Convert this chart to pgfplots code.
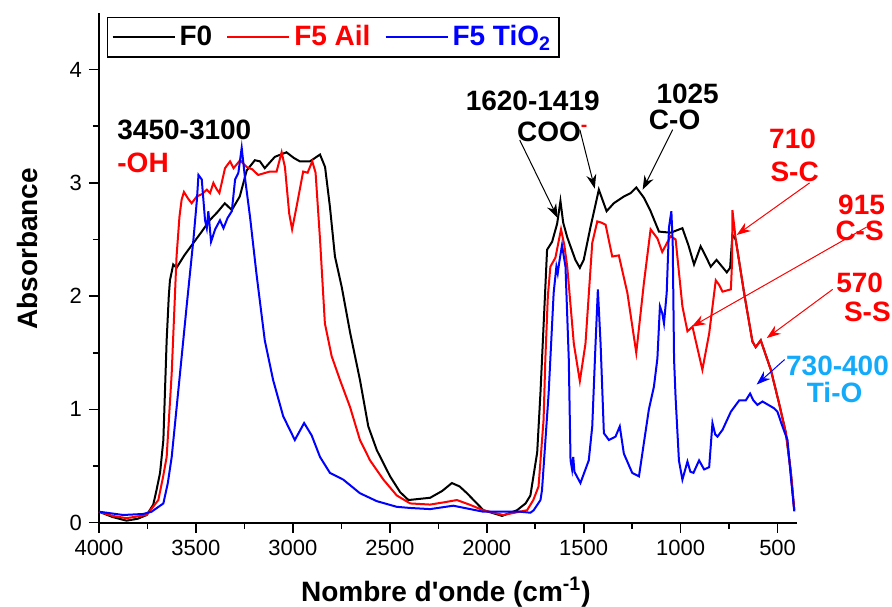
\documentclass[border=0pt]{standalone}
\usepackage{fontspec}
\setmainfont{Liberation Sans}
\usepackage{pgfplots}
\pgfplotsset{compat=1.18}
\usetikzlibrary{arrows.meta}
\definecolor{tiblue}{RGB}{20,170,250}
\begin{document}
\begin{tikzpicture}
\begin{axis}[
  scale only axis, width=349pt, height=254.85pt,
  xmin=400, xmax=4000, ymin=0, ymax=4.5, x dir=reverse,
  axis x line*=bottom, axis y line*=left,
  axis line style={line width=1pt, -},
  xtick={500,1000,...,4000}, ytick={0,1,2,3,4},
  minor x tick num=1, minor y tick num=1,
  tick align=outside,
  major tick length=5pt, minor tick length=3pt,
  every tick/.style={black, line width=0.8pt},
  tick label style={font=\fontsize{11}{13}\selectfont},
  /pgf/number format/assume math mode=true,
  /pgf/number format/1000 sep={},
  scaled x ticks=false,
  clip=false,
  xlabel={Nombre d\textquotesingle onde (cm\textsuperscript{-1})},
  ylabel={Absorbance},
  label style={font=\fontsize{14}{16}\selectfont\bfseries},
  xlabel style={at={(axis description cs:0.497,-0.136)}, anchor=center},
  ylabel style={at={(axis description cs:-0.102,0.537)}, anchor=center},
  legend style={at={(rel axis cs:0.0115,0.992)}, anchor=north west, draw=black, line width=0.6pt,
    font=\fontsize{14}{16}\selectfont\bfseries, inner sep=2pt,
    /tikz/every even column/.append style={column sep=5pt}},
  legend columns=3,
  legend image code/.code={\draw[#1, line width=1pt] (0pt,0pt) -- (31pt,0pt);},
]
\addplot[black, line width=1pt] coordinates {
(4000,0.097)(3930,0.05)(3858,0.018)(3800,0.035)(3754,0.068)(3720,0.16)(3703,0.29)(3685,0.44)(3668,0.73)(3651,1.61)(3640,2.0)(3634,2.14)(3617,2.28)(3600,2.25)(3560,2.36)(3513,2.47)(3470,2.57)(3429,2.67)(3390,2.74)(3351,2.82)(3315,2.76)(3274,2.88)(3238,3.11)(3196,3.20)(3170,3.19)(3145,3.13)(3093,3.23)(3033,3.27)(2995,3.22)(2964,3.19)(2912,3.19)(2860,3.25)(2834,3.14)(2809,2.79)(2783,2.35)(2748,2.08)(2705,1.68)(2654,1.26)(2611,0.85)(2567,0.64)(2499,0.41)(2447,0.27)(2404,0.20)(2292,0.22)(2230,0.28)(2180,0.35)(2140,0.32)(2102,0.26)(2017,0.11)(1921,0.06)(1844,0.11)(1800,0.17)(1775,0.24)(1740,0.62)(1723,1.15)(1700,2.0)(1689,2.41)(1663,2.48)(1637,2.64)(1620,2.84)(1606,2.65)(1585,2.52)(1543,2.32)(1520,2.25)(1500,2.32)(1465,2.61)(1422,2.94)(1382,2.75)(1345,2.82)(1293,2.88)(1258,2.91)(1229,2.96)(1190,2.87)(1155,2.75)(1112,2.57)(1052,2.56)(991,2.60)(960,2.45)(931,2.28)(897,2.44)(870,2.35)(845,2.26)(815,2.32)(762,2.21)(745,2.25)(733,2.54)(716,2.50)(673,2.03)(630,1.60)(613,1.55)(587,1.61)(535,1.35)(492,1.05)(457,0.79)(432,0.45)(414,0.11)
};
\addlegendentry{F0}
\addplot[red, line width=1pt] coordinates {
(4000,0.097)(3930,0.06)(3858,0.04)(3754,0.068)(3694,0.20)(3670,0.40)(3651,0.58)(3625,1.32)(3600,2.35)(3585,2.7)(3574,2.85)(3562,2.92)(3540,2.86)(3522,2.82)(3496,2.88)(3470,2.90)(3444,2.94)(3427,2.91)(3410,3.00)(3395,2.95)(3379,2.91)(3350,3.13)(3324,3.19)(3306,3.13)(3272,3.20)(3238,3.14)(3210,3.12)(3179,3.07)(3119,3.10)(3084,3.10)(3058,3.27)(3041,3.14)(3019,2.73)(3004,2.59)(2981,2.79)(2947,3.10)(2924,3.09)(2900,3.19)(2883,3.09)(2860,2.50)(2835,1.76)(2800,1.47)(2757,1.26)(2705,1.02)(2654,0.73)(2602,0.55)(2533,0.38)(2464,0.24)(2395,0.17)(2292,0.16)(2220,0.18)(2154,0.20)(2090,0.16)(2018,0.11)(1915,0.068)(1792,0.11)(1760,0.2)(1733,0.32)(1707,0.91)(1698,1.44)(1685,2.0)(1672,2.26)(1646,2.34)(1617,2.59)(1600,2.45)(1585,2.26)(1551,1.58)(1520,1.25)(1491,1.58)(1456,2.47)(1430,2.66)(1410,2.65)(1387,2.63)(1353,2.35)(1319,2.36)(1275,2.03)(1229,1.50)(1190,2.11)(1155,2.59)(1120,2.51)(1095,2.39)(1052,2.53)(1026,2.50)(991,1.91)(965,1.69)(939,1.73)(888,1.35)(853,1.67)(819,2.14)(802,2.10)(784,2.04)(741,2.06)(735,2.3)(733,2.76)(716,2.50)(673,2.03)(630,1.60)(613,1.55)(587,1.61)(535,1.35)(492,1.05)(457,0.79)(432,0.45)(414,0.11)
};
\addlegendentry{\textcolor{red}{F5 Ail}}
\addplot[blue, line width=1pt] coordinates {
(4000,0.097)(3875,0.068)(3772,0.077)(3729,0.097)(3668,0.17)(3645,0.35)(3625,0.58)(3582,1.32)(3548,1.91)(3513,2.50)(3495,2.85)(3487,3.07)(3470,3.03)(3453,2.67)(3444,2.60)(3436,2.75)(3422,2.48)(3401,2.59)(3376,2.67)(3358,2.60)(3337,2.69)(3315,2.75)(3298,3.03)(3281,3.09)(3264,3.31)(3246,3.03)(3221,2.70)(3188,2.20)(3145,1.61)(3102,1.26)(3050,0.94)(2990,0.73)(2942,0.88)(2903,0.77)(2860,0.58)(2809,0.44)(2740,0.38)(2654,0.26)(2567,0.19)(2464,0.14)(2395,0.13)(2292,0.12)(2173,0.15)(2018,0.097)(1827,0.097)(1775,0.088)(1758,0.11)(1723,0.20)(1715,0.29)(1681,1.14)(1655,2.03)(1641,2.26)(1634,2.20)(1627,2.29)(1612,2.45)(1594,2.26)(1577,1.44)(1568,0.55)(1560,0.47)(1554,0.58)(1548,0.45)(1517,0.35)(1474,0.55)(1456,0.85)(1439,1.58)(1427,2.06)(1413,1.58)(1396,0.79)(1370,0.73)(1336,0.76)(1314,0.85)(1293,0.61)(1250,0.44)(1215,0.41)(1190,0.70)(1164,1.00)(1138,1.2)(1120,1.45)(1107,1.91)(1095,1.85)(1086,1.76)(1072,2.03)(1060,2.61)(1048,2.75)(1041,2.47)(1034,1.44)(1026,1.10)(1009,0.55)(991,0.38)(965,0.54)(950,0.45)(934,0.44)(905,0.55)(879,0.47)(853,0.49)(836,0.88)(822,0.78)(810,0.76)(784,0.82)(741,0.98)(698,1.08)(664,1.08)(642,1.14)(625,1.08)(604,1.04)(578,1.07)(518,1.01)(501,0.98)(475,0.85)(449,0.73)(432,0.41)(414,0.10)
};
\addlegendentry{\textcolor{blue}{F5 TiO\textsubscript{2}}}
% annotations
\begin{scope}[font=\fontsize{14}{16}\selectfont\bfseries, every node/.append style={inner sep=0pt}]
\node[anchor=west, black] at (axis cs:3907,3.47) {3450-3100};
\node[anchor=west, red] at (axis cs:3907,3.18) {-OH};
\node[black] at (axis cs:1763,3.72) {1620-1419};
\node[black] at (axis cs:1660,3.45) {COO\textcolor{red}{\textsuperscript{-}}};
\node[black] at (axis cs:964,3.79) {1025};
\node[black] at (axis cs:1031,3.56) {C-O};
\node[red] at (axis cs:423,3.39) {710};
\node[red] at (axis cs:412,3.10) {S-C};
\node[red] at (axis cs:67,2.81) {915};
\node[red] at (axis cs:77,2.58) {C-S};
\node[red] at (axis cs:77,2.12) {570};
\node[red] at (axis cs:37,1.86) {S-S};
\node[tiblue] at (axis cs:191,1.385) {730-400};
\node[tiblue] at (axis cs:206,1.15) {Ti-O};
\end{scope}
\draw[black, line width=0.5pt, -{Stealth[length=7pt,width=5pt]}] (axis cs:1830,3.378) -- (axis cs:1634,2.69);
\draw[black, line width=0.5pt, -{Stealth[length=7pt,width=5pt]}] (axis cs:1520,3.47) -- (axis cs:1443,2.95);
\draw[black, line width=0.5pt, -{Stealth[length=7pt,width=5pt]}] (axis cs:1041,3.47) -- (axis cs:1196,2.94);
\draw[red, line width=0.5pt, -{Stealth[length=7pt,width=5pt]}] (axis cs:335,3.0) -- (axis cs:711,2.54);
\draw[red, line width=0.5pt, -{Stealth[length=7pt,width=5pt]}] (axis cs:41,2.61) -- (axis cs:943,1.73);
\draw[red, line width=0.5pt, -{Stealth[length=7pt,width=5pt]}] (axis cs:216,2.06) -- (axis cs:556,1.63);
\draw[blue, line width=0.5pt, -{Stealth[length=7pt,width=5pt]}] (axis cs:464,1.44) -- (axis cs:608,1.22);
\end{axis}
\pgfresetboundingbox
\path ([shift={(-49.5pt,-42.15pt)}]current axis.south west) rectangle ([shift={(47.5pt,6.5pt)}]current axis.north east);
\end{tikzpicture}
\end{document}
